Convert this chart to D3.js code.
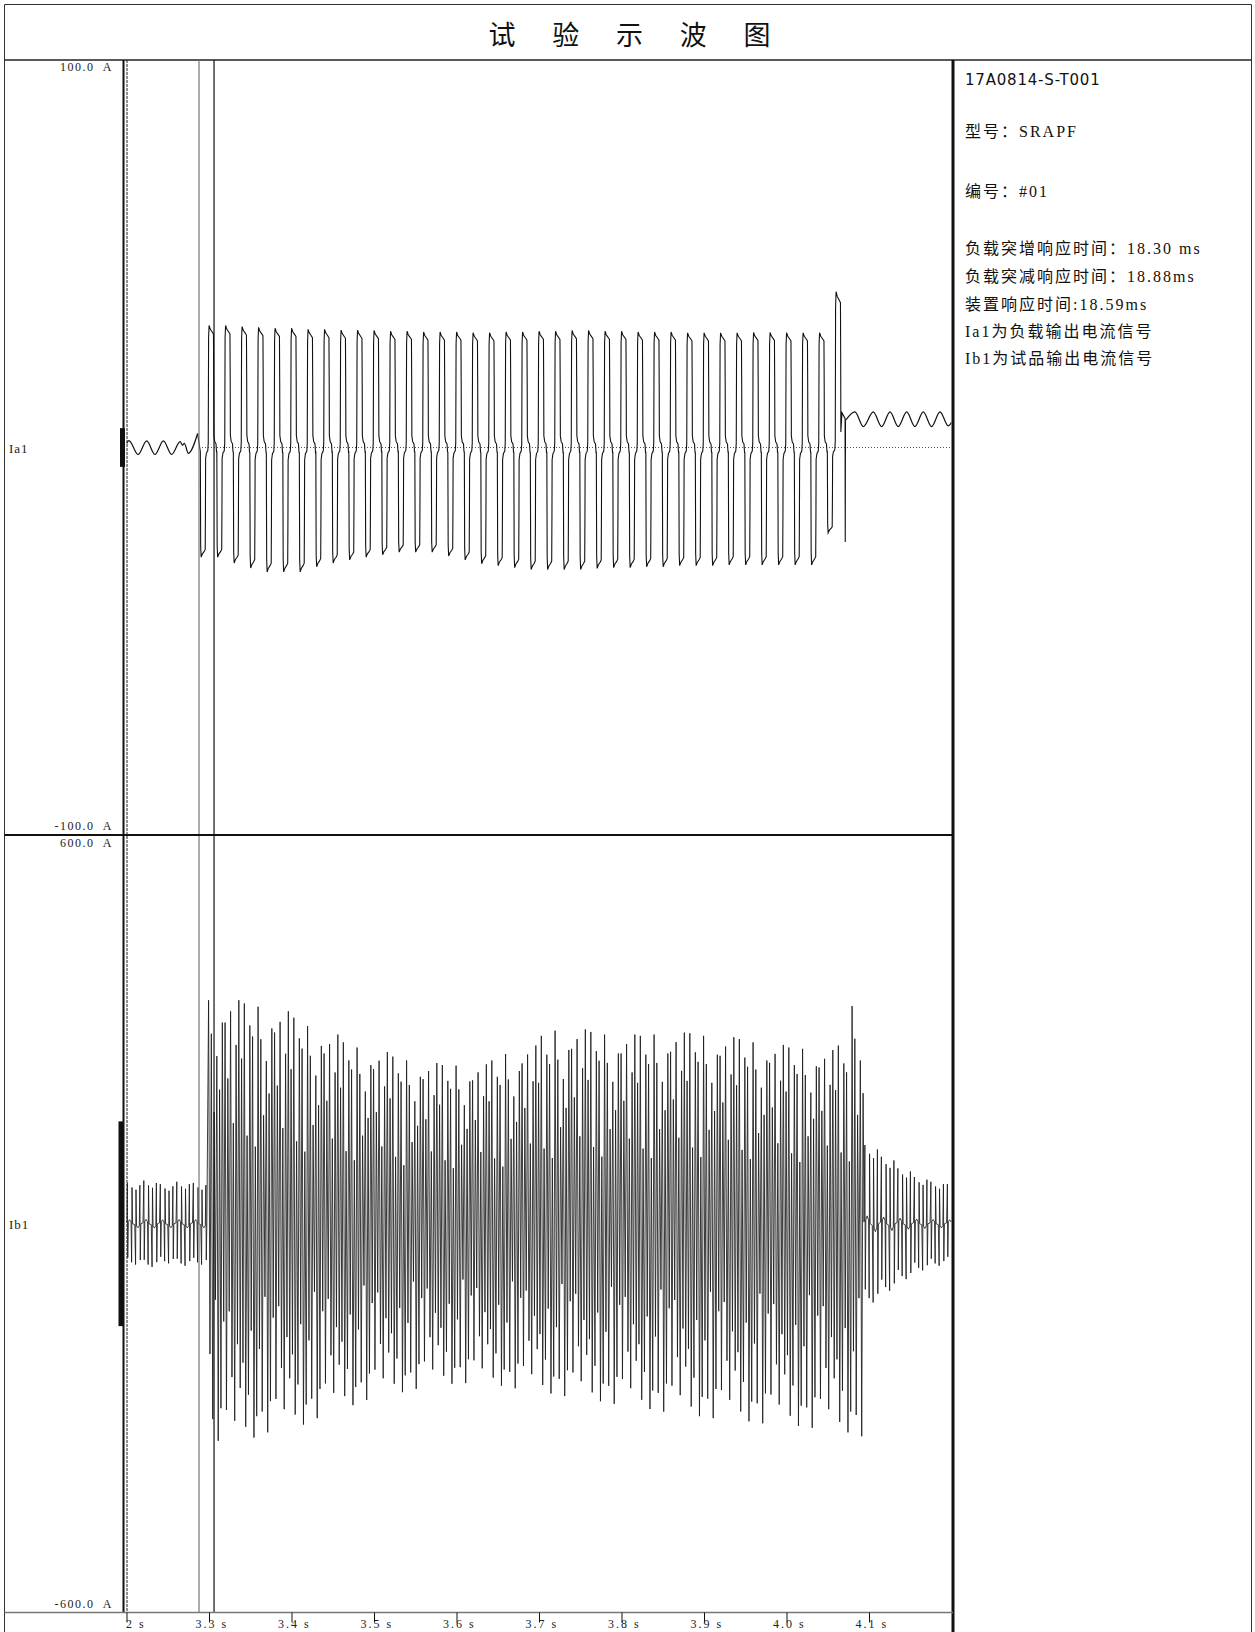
<!DOCTYPE html>
<html>
<head>
<meta charset="utf-8">
<script src="https://cdn.jsdelivr.net/npm/d3@7"></script>
<style>
  body { margin: 0; background: #fff; }
  svg { display: block; }
</style>
</head>
<body>
<div id="chart"></div>
<script>
// ---- data ----
const titleChars = ["试", "验", "示", "波", "图"];
const infoLines = [
    "17A0814-S-T001",
    "型号：SRAPF",
    "编号：#01",
    "负载突增响应时间：18.30 ms",
    "负载突减响应时间：18.88ms",
    "装置响应时间:18.59ms",
    "Ia1为负载输出电流信号",
    "Ib1为试品输出电流信号"
];
const channelNames = ["Ia1", "Ib1"];
const ia1Range = [-100, 100];
const ib1Range = [-600, 600];
const ia1RangeLabels = ["100.0  A", "-100.0  A"];
const ib1RangeLabels = ["600.0  A", "-600.0  A"];
const xTicks = [3.2, 3.3, 3.4, 3.5, 3.6, 3.7, 3.8, 3.9, 4.0, 4.1];
const cursorTimes = [3.2879, 3.3061];
// vertical extent of the first sample smear at the left edge (A)
const startBands = [[-5, 5], [-158, 158]];

// Ia1 ripple before the load step (peaks / troughs, s and A)
const ia1Pre = [[3.2000, 1.0], [3.2030, 1.8], [3.2140, -1.8], [3.2245, 1.7], [3.2345, -1.8],
    [3.2447, 1.7], [3.2548, -1.8], [3.2650, 1.5], [3.2680, 0.6], [3.2700, 1.1],
    [3.2750, -1.5], [3.2862, 3.6]];
// Ia1 quasi-square load current, one 20 ms cycle (ms, fraction of plateau)
const ia1Start = 3.2895;
const ia1Period = 0.02;
const ia1Shape = [[0.0, -0.04], [0.4, -0.90], [1.0, -1.00], [2.5, -0.97], [4.5, -0.95], [5.9, -0.93],
    [6.2, -0.55], [6.4, -0.10], [7.4, -0.05], [9.0, -0.03], [9.6, 0.04],
    [10.0, 0.90], [10.6, 1.00], [12.0, 0.97], [14.0, 0.95], [15.9, 0.93],
    [16.2, 0.55], [16.4, 0.10], [17.4, 0.05], [19.0, 0.03], [19.6, -0.04]];
const ia1High = [31.5, 31.5, 31.2, 31.0, 30.8, 30.8, 30.5, 30.5, 30.3, 30.3, 30.2, 30.0, 30.0,
    29.8, 29.8, 29.8, 29.6, 29.6, 29.8, 29.8, 30.0, 30.0, 30.2, 30.2, 30.0, 30.0, 29.8,
    29.8, 29.8, 29.6, 29.6, 29.6, 29.6, 29.7, 29.7, 29.6, 29.6, 29.6, 40.2];
const ia1Low = [-28.3, -28.3, -29.8, -31.1, -32.1, -32.1, -32.1, -30.8, -29.8, -29.0, -28.3,
    -27.7, -27.0, -27.0, -27.0, -28.0, -29.0, -30.0, -30.5, -31.0, -31.5, -31.5, -31.5,
    -31.5, -31.2, -31.0, -31.0, -30.8, -30.8, -30.5, -30.5, -30.5, -30.3, -30.3, -30.3,
    -30.3, -30.3, -30.3, -22.0];
const ia1StepEnd = 4.0668;
const ia1Tail = [[4.0672, 9.0], [4.0710, 7.5], [4.0712, -24.4], [4.0715, 7.0]];
// Ia1 ripple after the load drop
const ia1Post = [[4.0715, 7.0], [4.0830, 9.2], [4.0931, 5.4], [4.1052, 9.2], [4.1153, 5.4],
    [4.1255, 9.2], [4.1354, 5.4], [4.1457, 9.2], [4.1556, 5.4], [4.1658, 9.2],
    [4.1758, 5.4], [4.1861, 9.2], [4.1960, 5.6], [4.2000, 6.5]];

// Ib1 compensating current
const ib1ActiveStart = 3.2995;
const ib1ActiveEnd = 4.0940;
const ib1Period = 0.02;
const ib1Step = 20 / 12; // ms between samples inside a cycle
// three rotating cycle patterns (fraction of the envelope)
const ib1ShapeA = [1.0, -0.6, 0.85, -0.9, 0.5, -0.35, 0.75, -1.0, 0.6, -0.85, 0.9, -0.45];
const ib1ShapeB = [0.9, -0.85, 0.65, -0.4, 0.95, -0.7, 0.45, -0.9, 0.8, -0.55, 1.0, -0.75];
const ib1ShapeC = [0.75, -0.65, 1.0, -0.95, 0.4, -0.8, 0.9, -0.5, 0.85, -1.0, 0.35, -0.9];
const ib1Upper = [345, 345, 340, 335, 328, 318, 305, 292, 280, 272, 265, 258, 252, 248,
    245, 244, 246, 252, 262, 275, 290, 298, 300, 296, 292, 292, 290, 292, 295, 294,
    290, 288, 285, 280, 276, 272, 270, 268, 275, 336];
const ib1Lower = [-335, -338, -330, -322, -318, -310, -300, -290, -280, -272, -265, -260,
    -255, -250, -247, -246, -248, -250, -254, -258, -262, -266, -270, -274, -278, -282,
    -286, -290, -294, -297, -300, -302, -305, -308, -310, -312, -315, -318, -322, -328];
// quiet spiky current before and after the step (ms, fraction)
const ib1QuietShape = [[0, 0.02], [1.0, 0.9], [1.5, -0.75], [2.2, 0.05], [3.8, 0.09], [5.5, 0.04],
    [6.2, -0.85], [6.7, 0.8], [7.4, 0.0], [10.0, -0.02], [11.0, -0.9], [11.5, 0.75],
    [12.2, -0.05], [13.8, -0.09], [15.5, -0.04], [16.2, 0.85], [16.7, -0.8], [17.4, 0.0]];
const ib1PreStart = 3.2000;
const ib1PreAmp = [70, 74, 68, 72, 70];
const ib1PostStart = 4.0940;
const ib1PostAmp = [135, 115, 95, 80, 72, 68];

// ---- layout ----
const width = 1255, height = 1632;
const frameLeft = 4.5, frameRight = 1251.5, frameTop = 4.5;
const headerBottom = 60;
const plotLeft = 126.5, plotRight = 951.5;
const panelSplit = 835;
const plotBottom = 1612.5;
const serif = "'Liberation Serif', 'DejaVu Serif', serif";
const cjk = "'Liberation Serif', 'Noto Sans CJK SC', sans-serif";

const svg = d3.select("#chart").append("svg")
    .attr("width", width)
    .attr("height", height);

const x = d3.scaleLinear().domain([3.2, 4.2]).range([plotLeft, plotRight]);
const yTop = d3.scaleLinear().domain(ia1Range).range([panelSplit, headerBottom]);
const yBot = d3.scaleLinear().domain(ib1Range).range([plotBottom, panelSplit]);

const defs = svg.append("defs");
defs.append("clipPath").attr("id", "clipTop").append("rect")
    .attr("x", plotLeft).attr("y", headerBottom)
    .attr("width", plotRight - plotLeft).attr("height", panelSplit - headerBottom);
defs.append("clipPath").attr("id", "clipBot").append("rect")
    .attr("x", plotLeft).attr("y", panelSplit)
    .attr("width", plotRight - plotLeft).attr("height", plotBottom - panelSplit);
// in the axis group's own (translated) coordinates
defs.append("clipPath").attr("id", "clipTicks").append("rect")
    .attr("x", 125).attr("y", -5)
    .attr("width", plotRight - 125).attr("height", 40);

// turn a cycle pattern given as [ms, fraction] into points
function buildCycles(start, period, shapes, hi, lo, tEnd) {
    const pts = [];
    for (let k = 0; k < hi.length; k++) {
        const t0 = start + k * period;
        const shape = shapes[k % shapes.length];
        shape.forEach(([ms, v]) => {
            const t = t0 + ms / 1000;
            if (t < tEnd) pts.push([t, v >= 0 ? v * hi[k] : -v * lo[k]]);
        });
    }
    return pts;
}
const sampled = s => s.map((v, i) => [i * ib1Step, v]);

// ---- frame ----
const frame = svg.append("g").attr("stroke", "#333").attr("fill", "none");
frame.append("line").attr("x1", frameLeft).attr("x2", frameRight)
    .attr("y1", frameTop).attr("y2", frameTop).attr("stroke-width", 1);
frame.append("line").attr("x1", frameLeft).attr("x2", frameLeft)
    .attr("y1", frameTop).attr("y2", height).attr("stroke-width", 1);
frame.append("line").attr("x1", frameRight).attr("x2", frameRight)
    .attr("y1", frameTop).attr("y2", height).attr("stroke-width", 1);
frame.append("line").attr("x1", frameLeft).attr("x2", frameRight)
    .attr("y1", headerBottom).attr("y2", headerBottom).attr("stroke-width", 1.5).attr("stroke", "#222");

// title
const titleX = d3.scalePoint().domain(titleChars).range([502, 757]);
svg.append("g").selectAll("text")
    .data(titleChars)
    .enter()
    .append("text")
    .attr("x", d => titleX(d))
    .attr("y", 45)
    .attr("text-anchor", "middle")
    .style("font-family", "'Noto Sans CJK SC', sans-serif")
    .style("font-size", "27px")
    .style("fill", "#111")
    .text(d => d);

// ---- waveforms ----
const lineTop = d3.line().x(d => x(d[0])).y(d => yTop(d[1]));
const rippleTop = d3.line().x(d => x(d[0])).y(d => yTop(d[1])).curve(d3.curveMonotoneX);
const lineBot = d3.line().x(d => x(d[0])).y(d => yBot(d[1]));

// zero reference of Ia1
svg.append("line")
    .attr("x1", x(cursorTimes[0])).attr("x2", plotRight)
    .attr("y1", yTop(0)).attr("y2", yTop(0))
    .attr("stroke", "#555").attr("stroke-width", 1)
    .attr("stroke-dasharray", "1,2");

const gTop = svg.append("g").attr("clip-path", "url(#clipTop)");
const ia1Main = [ia1Pre[ia1Pre.length - 1]]
    .concat(buildCycles(ia1Start, ia1Period, [ia1Shape], ia1High, ia1Low, ia1StepEnd))
    .concat(ia1Tail);
gTop.append("path").attr("d", rippleTop(ia1Pre))
    .attr("fill", "none").attr("stroke", "#111").attr("stroke-width", 1.2);
gTop.append("path").attr("d", lineTop(ia1Main))
    .attr("fill", "none").attr("stroke", "#111").attr("stroke-width", 1.1);
gTop.append("path").attr("d", rippleTop(ia1Post))
    .attr("fill", "none").attr("stroke", "#111").attr("stroke-width", 1.2);

const gBot = svg.append("g").attr("clip-path", "url(#clipBot)");
const ib1Points = buildCycles(ib1PreStart, ib1Period, [ib1QuietShape], ib1PreAmp,
        ib1PreAmp.map(a => -a), ib1ActiveStart)
    .concat(buildCycles(ib1ActiveStart, ib1Period,
        [sampled(ib1ShapeA), sampled(ib1ShapeB), sampled(ib1ShapeC)],
        ib1Upper, ib1Lower, ib1ActiveEnd))
    .concat(buildCycles(ib1PostStart, ib1Period, [ib1QuietShape], ib1PostAmp,
        ib1PostAmp.map(a => -a), 4.2001));
gBot.append("path").attr("d", lineBot(ib1Points))
    .attr("fill", "none").attr("stroke", "#1a1a1a").attr("stroke-width", 0.85);

// smear of the first sample at the left edge
svg.append("rect")
    .attr("x", 120).attr("width", 5)
    .attr("y", yTop(startBands[0][1]))
    .attr("height", yTop(startBands[0][0]) - yTop(startBands[0][1]))
    .attr("fill", "#111");
svg.append("rect")
    .attr("x", 118.5).attr("width", 5)
    .attr("y", yBot(startBands[1][1]))
    .attr("height", yBot(startBands[1][0]) - yBot(startBands[1][1]))
    .attr("fill", "#111");

// cursors
svg.selectAll(".cursor")
    .data(cursorTimes)
    .enter()
    .append("line")
    .attr("class", "cursor")
    .attr("x1", d => x(d)).attr("x2", d => x(d))
    .attr("y1", headerBottom).attr("y2", plotBottom)
    .attr("stroke", (d, i) => i === 0 ? "#777" : "#111")
    .attr("stroke-width", 1.2);

// ---- axes and borders ----
svg.append("line")
    .attr("x1", 123.5).attr("x2", 123.5)
    .attr("y1", headerBottom).attr("y2", plotBottom)
    .attr("stroke", "#111").attr("stroke-width", 2);
svg.append("line")
    .attr("x1", plotLeft + 0.5).attr("x2", plotLeft + 0.5)
    .attr("y1", headerBottom).attr("y2", plotBottom)
    .attr("stroke", "#222").attr("stroke-width", 1)
    .attr("stroke-dasharray", "3,1");
svg.append("line")
    .attr("x1", frameLeft).attr("x2", 953)
    .attr("y1", panelSplit).attr("y2", panelSplit)
    .attr("stroke", "#111").attr("stroke-width", 2);
svg.append("line")
    .attr("x1", 953).attr("x2", 953)
    .attr("y1", headerBottom).attr("y2", height)
    .attr("stroke", "#111").attr("stroke-width", 3);
svg.append("line")
    .attr("x1", frameLeft).attr("x2", 953)
    .attr("y1", plotBottom).attr("y2", plotBottom)
    .attr("stroke", "#777").attr("stroke-width", 1.5);

const xAxis = d3.axisBottom(x)
    .tickValues(xTicks)
    .tickSize(10)
    .tickFormat(d => d.toFixed(1) + " s");
const axisG = svg.append("g")
    .attr("transform", `translate(0, ${plotBottom})`)
    .attr("clip-path", "url(#clipTicks)")
    .call(xAxis);
axisG.select(".domain").remove();
axisG.selectAll(".tick line").attr("stroke", "#111");
axisG.selectAll(".tick text")
    .attr("y", 15.5)
    .attr("dy", 0)
    .attr("x", -14)
    .attr("text-anchor", "start")
    .style("font-family", serif)
    .style("font-size", "12px")
    .style("letter-spacing", "2px")
    .style("fill", "#222");

// range labels
const rangeLabels = [
    { text: ia1RangeLabels[0], y: yTop(ia1Range[1]) + 11 },
    { text: ia1RangeLabels[1], y: yTop(ia1Range[0]) - 5 },
    { text: ib1RangeLabels[0], y: yBot(ib1Range[1]) + 12 },
    { text: ib1RangeLabels[1], y: yBot(ib1Range[0]) - 5 }
];
svg.append("g").selectAll("text")
    .data(rangeLabels)
    .enter()
    .append("text")
    .attr("x", 113)
    .attr("y", d => d.y)
    .attr("text-anchor", "end")
    .style("font-family", serif)
    .style("font-size", "12px")
    .style("letter-spacing", "1.5px")
    .style("white-space", "pre")
    .style("fill", "#222")
    .text(d => d.text);

// channel names
svg.append("g").selectAll("text")
    .data(channelNames)
    .enter()
    .append("text")
    .attr("x", 9)
    .attr("y", (d, i) => i === 0 ? yTop(0) + 5 : yBot(0) + 5)
    .style("font-family", serif)
    .style("font-size", "13px")
    .style("letter-spacing", "1px")
    .style("fill", "#222")
    .text(d => d);

// ---- info panel ----
const infoY = [85, 137, 197, 254, 282, 310, 337, 364];
svg.append("g").selectAll("text")
    .data(infoLines)
    .enter()
    .append("text")
    .attr("x", 965)
    .attr("y", (d, i) => infoY[i])
    .style("font-family", (d, i) => i === 0 ? "'DejaVu Sans', sans-serif" : cjk)
    .style("font-size", (d, i) => i === 0 ? "15px" : "16px")
    .style("letter-spacing", (d, i) => i === 0 ? "0.8px" : "2px")
    .style("fill", "#111")
    .text(d => d);
</script>
</body>
</html>
